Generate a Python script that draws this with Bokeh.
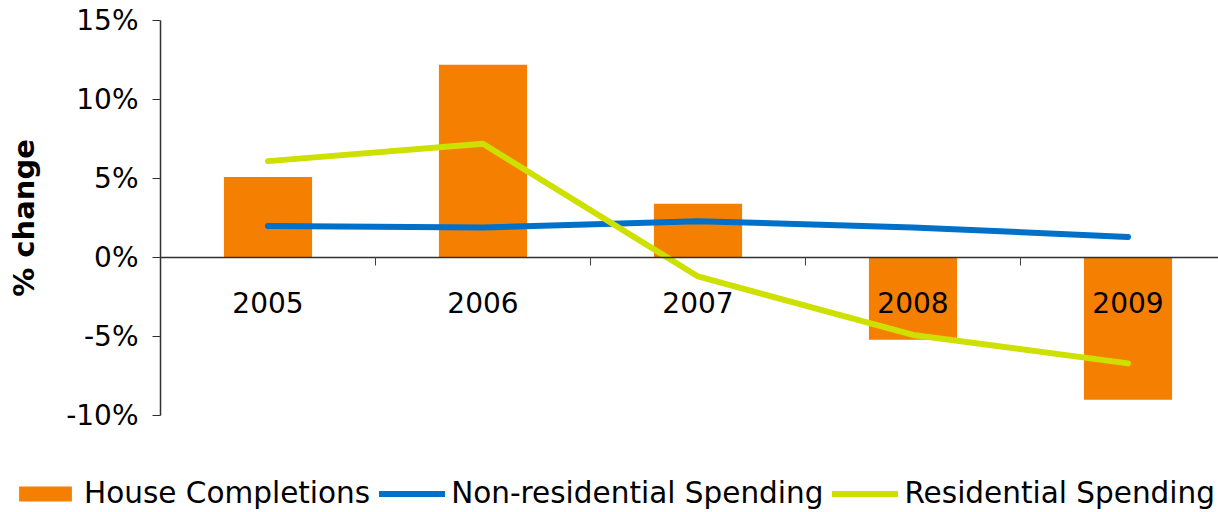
from bokeh.plotting import figure
from bokeh.models import Range1d, FixedTicker, Legend, LegendItem
from bokeh.embed import file_html
from bokeh.resources import INLINE

years = ["2005", "2006", "2007", "2008", "2009"]
house_completions = [5.1, 12.2, 3.4, -5.2, -9.0]
nonres_spending = [2.0, 1.9, 2.3, 1.9, 1.3]
res_spending = [6.1, 7.2, -1.2, -4.9, -6.7]
y_ticks = [-10, -5, 0, 5, 10, 15]
y_tick_labels = ["-10%", "-5%", "0%", "5%", "10%", "15%"]

FONT = "DejaVu Sans"
ORANGE = "#F57F00"
BLUE = "#0070C8"
LIME = "#CEE000"

W, H = 1218, 512
LEFT, TOP, BOTTOM = 160, 20, 415          # plot-area pixel edges
PX_X = 215.0                              # pixels per category
PX_Y = (BOTTOM - TOP) / 25.0              # pixels per percent

xc = [i + 0.5 for i in range(len(years))]

x_end = (W - LEFT) / PX_X
p = figure(width=W, height=H, output_backend="svg", toolbar_location=None,
           x_range=Range1d(-LEFT / PX_X, x_end),
           y_range=Range1d(-10 - (H - BOTTOM) / PX_Y, 15 + TOP / PX_Y),
           min_border=0)
p.outline_line_color = None
p.xgrid.visible = False
p.ygrid.visible = False
p.background_fill_color = "white"
p.border_fill_color = "white"

bars = p.vbar(x=xc, top=house_completions, width=0.41, bottom=0,
              fill_color=ORANGE, line_color=None)
l1 = p.line(xc, nonres_spending, line_color=BLUE, line_width=6,
            line_cap="round", line_join="round")
l2 = p.line(xc, res_spending, line_color=LIME, line_width=6,
            line_cap="round", line_join="round")

# category axis on the zero line
xa = p.xaxis[0]
xa.fixed_location = 0
xa.bounds = (0, x_end)
xa.ticker = FixedTicker(ticks=xc, minor_ticks=[1, 2, 3, 4])
xa.major_label_overrides = {x: y for x, y in zip(xc, years)}
xa.major_tick_out = 0
xa.major_tick_in = 0
xa.minor_tick_out = 8
xa.minor_tick_in = 0
xa.minor_tick_line_color = "#404040"
xa.axis_line_color = "#303030"
xa.axis_line_width = 1.5
xa.major_label_text_font = FONT
xa.major_label_text_font_size = "28px"
xa.major_label_text_color = "black"
xa.major_label_standoff = 26

# value axis
ya = p.yaxis[0]
ya.fixed_location = 0
ya.bounds = (-10, 15)
ya.ticker = FixedTicker(ticks=y_ticks, minor_ticks=[])
ya.major_label_overrides = {t: s for t, s in zip(y_ticks, y_tick_labels)}
ya.major_tick_out = 8
ya.major_tick_in = 0
ya.minor_tick_out = 0
ya.minor_tick_in = 0
ya.major_tick_line_color = "#303030"
ya.axis_line_color = "#303030"
ya.axis_line_width = 1.5
ya.major_label_text_font = FONT
ya.major_label_text_font_size = "28px"
ya.major_label_text_color = "black"
ya.major_label_standoff = 14
ya.axis_label = "% change"
ya.axis_label_text_font = FONT
ya.axis_label_text_font_size = "29px"
ya.axis_label_text_font_style = "bold"
ya.axis_label_text_color = "black"
ya.axis_label_standoff = 22

legend = Legend(items=[
    LegendItem(label="House Completions", renderers=[bars]),
    LegendItem(label="Non-residential Spending", renderers=[l1]),
    LegendItem(label="Residential Spending", renderers=[l2]),
], orientation="horizontal", location=(12, 2))
legend.label_text_font = FONT
legend.label_text_font_size = "29.5px"
legend.label_text_color = "black"
legend.glyph_width = 66
legend.glyph_height = 19
legend.label_standoff = 6
legend.spacing = 9
legend.padding = 0
legend.margin = 0
legend.border_line_color = None
legend.background_fill_alpha = 0
p.add_layout(legend, "center")

open("out.html", "w").write(file_html(p, INLINE))
